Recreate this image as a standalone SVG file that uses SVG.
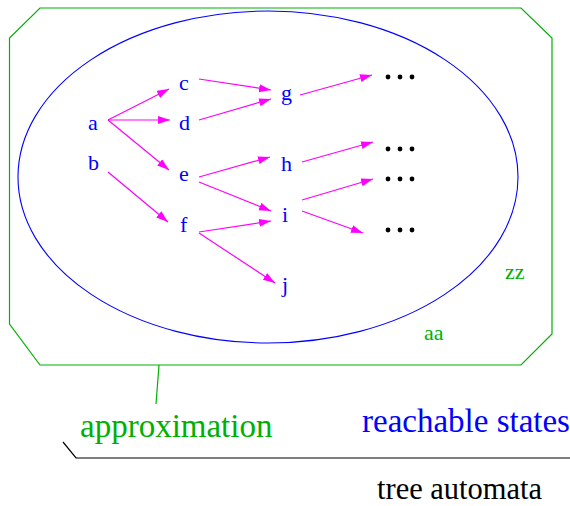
<svg xmlns="http://www.w3.org/2000/svg" width="570" height="506" viewBox="0 0 570 506">
  <style>
    .state { font-family: "Liberation Serif", "Times New Roman", serif; font-size: 22px; fill: #0000ff; }
    .tag { font-family: "Liberation Serif", "Times New Roman", serif; font-size: 22px; fill: #00b000; }
    .big { font-family: "Liberation Serif", "Times New Roman", serif; font-size: 33px; }
    .edge { stroke: #ff00ff; stroke-width: 1.2; fill: none; marker-end: url(#head); }
    .dot { fill: #000000; }
  </style>
  <defs>
    <marker id="head" markerUnits="userSpaceOnUse" markerWidth="13" markerHeight="9" refX="12" refY="4" orient="auto">
      <path d="M0,0 L12,4 L0,8 z" fill="#ff00ff"/>
    </marker>
  </defs>

  <rect width="570" height="506" fill="#ffffff"/>

  <!-- outer approximation region -->
  <g id="approximation-region">
    <polygon points="40,8 521,8 552,38 552,334 521,365 40,365 9.5,324 9.5,38" fill="none" stroke="#00b000" stroke-width="1.2"/>
    <line x1="159" y1="365" x2="156" y2="404" stroke="#00b000" stroke-width="1.2"/>
    <text class="tag" x="505" y="279">zz</text>
  </g>

  <!-- reachable states set -->
  <g id="reachable-set">
    <ellipse cx="268" cy="177" rx="250" ry="166" fill="none" stroke="#0000ff" stroke-width="1.1"/>
    <text class="tag" x="424" y="340">aa</text>
  </g>

  <!-- transitions -->
  <g id="connectors">
    <line class="edge" x1="108" y1="120" x2="169" y2="89"/>
    <line class="edge" x1="108" y1="120" x2="170" y2="120"/>
    <line class="edge" x1="108" y1="120" x2="169" y2="170"/>
    <line class="edge" x1="108" y1="172" x2="168" y2="222"/>
    <line class="edge" x1="199" y1="79" x2="271" y2="90"/>
    <line class="edge" x1="199" y1="120" x2="271" y2="99"/>
    <line class="edge" x1="199" y1="177" x2="270" y2="157"/>
    <line class="edge" x1="199" y1="182" x2="271" y2="211"/>
    <line class="edge" x1="199" y1="232" x2="271" y2="221"/>
    <line class="edge" x1="199" y1="233" x2="275" y2="283"/>
    <line class="edge" x1="300" y1="95" x2="372" y2="75"/>
    <line class="edge" x1="302" y1="162" x2="373" y2="142"/>
    <line class="edge" x1="302" y1="200" x2="373" y2="179"/>
    <line class="edge" x1="302" y1="211" x2="363" y2="233"/>
  </g>

  <!-- states -->
  <g id="node-a"><text class="state" x="88" y="130">a</text></g>
  <g id="node-b"><text class="state" x="88" y="170">b</text></g>
  <g id="node-c"><text class="state" x="179" y="90">c</text></g>
  <g id="node-d"><text class="state" x="179" y="130">d</text></g>
  <g id="node-e"><text class="state" x="179" y="181">e</text></g>
  <g id="node-f"><text class="state" x="180" y="232">f</text></g>
  <g id="node-g"><text class="state" x="281" y="100">g</text></g>
  <g id="node-h"><text class="state" x="281" y="171">h</text></g>
  <g id="node-i"><text class="state" x="282" y="222">i</text></g>
  <g id="node-j"><text class="state" x="282" y="292">j</text></g>

  <!-- continuation ellipses -->
  <g id="more-1"><circle class="dot" cx="388" cy="77" r="2.4"/><circle class="dot" cx="400" cy="77" r="2.4"/><circle class="dot" cx="412" cy="77" r="2.4"/></g>
  <g id="more-2"><circle class="dot" cx="388" cy="149" r="2.4"/><circle class="dot" cx="400" cy="149" r="2.4"/><circle class="dot" cx="412" cy="149" r="2.4"/></g>
  <g id="more-3"><circle class="dot" cx="388" cy="179" r="2.4"/><circle class="dot" cx="400" cy="179" r="2.4"/><circle class="dot" cx="412" cy="179" r="2.4"/></g>
  <g id="more-4"><circle class="dot" cx="388" cy="230" r="2.4"/><circle class="dot" cx="400" cy="230" r="2.4"/><circle class="dot" cx="412" cy="230" r="2.4"/></g>

  <!-- captions -->
  <g id="captions">
    <text class="big" x="80" y="437" fill="#00b000">approximation</text>
    <text class="big" x="362" y="432" fill="#0000ff">reachable states</text>
    <polyline points="63,442 76,458 570,458" fill="none" stroke="#000000" stroke-width="1.2"/>
    <text class="big" x="377" y="499" fill="#000000" style="font-size:30.5px">tree automata</text>
  </g>
</svg>
